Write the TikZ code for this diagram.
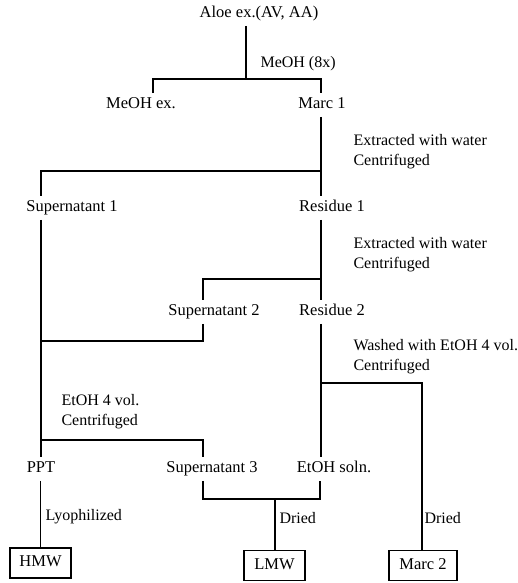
\documentclass[tikz,border=0pt]{standalone}
\usepackage{fontspec}
\setmainfont{Liberation Serif}
\usetikzlibrary{positioning}
\begin{document}
\begin{tikzpicture}[x=1pt, y=-1pt, line width=1.1pt,
    lbl/.style={font=\fontsize{16.5}{20}\selectfont, inner sep=4pt, text height=11pt, text depth=3.5pt},
    note/.style={font=\fontsize{16}{20}\selectfont, inner sep=0pt, anchor=west, align=left},
    product/.style={lbl, draw, line width=1.4pt, minimum width=61pt, minimum height=30pt, inner sep=2pt}]
    \useasboundingbox (0,0) rectangle (518,583);

    % Samples
    \node[lbl] (aloe) at (259,14) {Aloe ex.(AV, AA)};
    \node[lbl] (meohex) at (141,105) {MeOH ex.};
    \node[lbl] (marc1) at (322,105) {Marc 1};
    \node[lbl] (sup1) at (72,208) {Supernatant 1};
    \node[lbl] (res1) at (332,208) {Residue 1};
    \node[lbl] (sup2) at (214,312) {Supernatant 2};
    \node[lbl] (res2) at (332,312) {Residue 2};
    \node[lbl] (ppt) at (41,469) {PPT};
    \node[lbl] (sup3) at (212,469) {Supernatant 3};
    \node[lbl] (etohsoln) at (334,469) {EtOH soln.};

    % Products
    \node[product] (hmw) at (40.5,563) {HMW};
    \node[product] (lmw) at (274.5,565.5) {LMW};
    \node[product, minimum width=68pt] (marc2) at (423,565.5) {Marc 2};

    % Treatments
    \node[note] (meoh) at (260,64) {MeOH (8x)};
    \node[note] (water1) at (353,152) {Extracted with water\\Centrifuged};
    \node[note] (water2) at (353,254.5) {Extracted with water\\Centrifuged};
    \node[note] (wash) at (353,357) {Washed with EtOH 4 vol.\\Centrifuged};
    \node[note] (etoh) at (61,411.5) {EtOH 4 vol.\\Centrifuged};
    \node[note] (lyo) at (45,517) {Lyophilized};
    \node[note] (dry1) at (279,518) {Dried};
    \node[note] (dry2) at (424,518) {Dried};

    % Methanol extraction
    \coordinate (b1) at (246,79);
    \coordinate (b1l) at (153,79);
    \coordinate (b1r) at (321,79);
    \draw (b1 |- aloe.south) -- (b1);
    \draw (b1l |- meohex.north) -- (b1l) -- (b1r) -- (marc1.north -| b1r);

    % First water extraction
    \coordinate (b2l) at (41,171);
    \coordinate (b2r) at (321,171);
    \draw (marc1.south -| b2r) -- (res1.north -| b2r);
    \draw (b2r) -- (b2l) -- (sup1.north -| b2l);

    % Second water extraction
    \coordinate (b3l) at (203,279);
    \coordinate (b3r) at (321,279);
    \draw (res1.south -| b3r) -- (res2.north -| b3r);
    \draw (b3r) -- (b3l) -- (sup2.north -| b3l);

    % Combined supernatants, EtOH precipitation
    \coordinate (c1l) at (41,341);
    \coordinate (c1r) at (203,341);
    \draw (sup2.south -| c1r) -- (c1r) -- (c1l);
    \draw (sup1.south -| c1l) -- (ppt.north -| c1l);
    \coordinate (b4l) at (41,440);
    \coordinate (b4r) at (203,440);
    \draw (b4l) -- (b4r) -- (sup3.north -| b4r);

    % EtOH wash
    \coordinate (b5l) at (321,383);
    \coordinate (b5r) at (422,383);
    \draw (res2.south -| b5l) -- (etohsoln.north -| b5l);
    \draw (b5l) -- (b5r) -- (marc2.north -| b5r);

    % Drying
    \coordinate (b6l) at (203,499);
    \coordinate (b6r) at (320,499);
    \coordinate (b6m) at (275,499);
    \draw (ppt.south -| hmw.north) -- (hmw.north);
    \draw (sup3.south -| b6l) -- (b6l) -- (b6r) -- (etohsoln.south -| b6r);
    \draw (b6m) -- (lmw.north -| b6m);
\end{tikzpicture}
\end{document}
